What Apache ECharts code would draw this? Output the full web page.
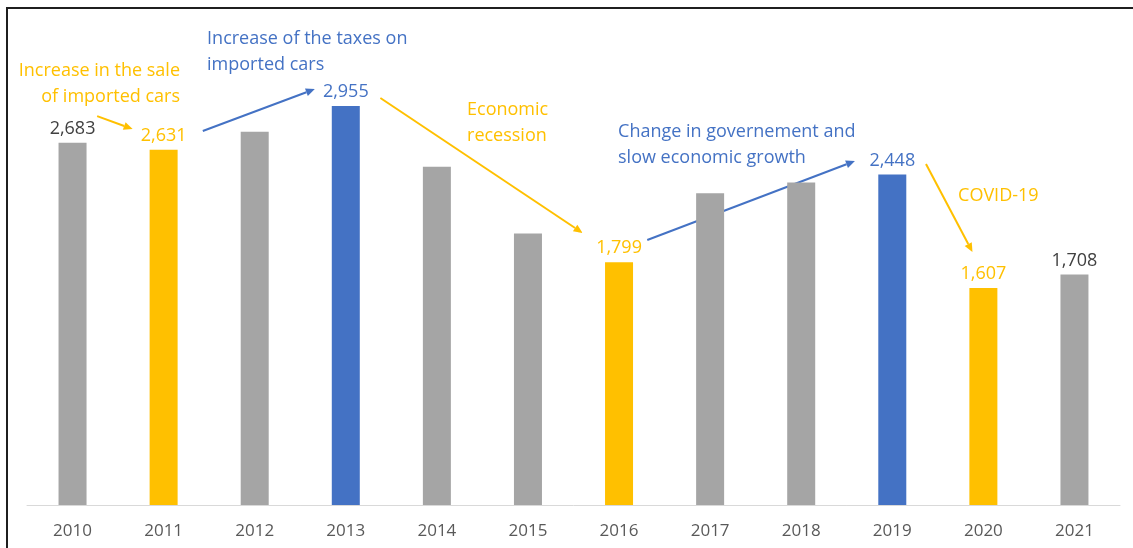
<!DOCTYPE html>
<html>
<head>
<meta charset="utf-8">
<script src="https://cdn.jsdelivr.net/npm/echarts@6/dist/echarts.min.js"></script>
<style>
  html, body { margin: 0; padding: 0; background: #ffffff; }
  #chart { width: 1133px; height: 548px; }
</style>
</head>
<body>
<div id="chart"></div>
<script>
// Yearly car sales (units)
const years  = ['2010', '2011', '2012', '2013', '2014', '2015', '2016', '2017', '2018', '2019', '2020', '2021'];
const sales  = [2683, 2631, 2765, 2955, 2506, 2012, 1799, 2309, 2388, 2448, 1607, 1708];
const tones  = ['gray', 'yellow', 'gray', 'blue', 'gray', 'gray', 'yellow', 'gray', 'gray', 'blue', 'yellow', 'gray'];
const labelled = [true, true, false, true, false, false, true, false, false, true, true, true];

// Annotation arrows, in data space: [category position, value]
const arrowStart = [[0.27, 2881], [1.43, 2770], [3.38, 3015], [6.31, 1963], [9.37, 2526]];
const arrowEnd   = [[0.66, 2785], [2.66, 3081], [5.60, 2015], [8.59, 2548], [9.88, 1874]];
const arrowTone  = ['yellow', 'blue', 'yellow', 'blue', 'yellow'];

// Annotation notes, anchored in data space
const noteText   = ['Increase in the sale\nof imported cars', 'Increase of the taxes on\nimported cars',
                    'Economic\nrecession', 'Change in governement and\nslow economic growth', 'COVID-19'];
const noteAnchor = [[1.18, 3119], [1.477, 3356], [4.331, 2830], [5.989, 2670], [9.722, 2289]];
const noteAlign  = ['right', 'left', 'left', 'left', 'left'];
const noteTone   = ['yellow', 'blue', 'yellow', 'blue', 'yellow'];

const barFill = { gray: '#a5a5a5', yellow: '#ffc000', blue: '#4472c4' };
const ink     = { gray: '#404040', yellow: '#ffc000', blue: '#4472c4' };
const FONT = "'Open Sans', 'Noto Sans', sans-serif";

const chart = echarts.init(document.getElementById('chart'), null, { renderer: 'canvas' });

chart.setOption({
  animation: false,
  backgroundColor: '#ffffff',
  grid: { left: 27, right: 13, top: 100, bottom: 43 },
  xAxis: [
    {
      type: 'category',
      data: years,
      axisLine: { lineStyle: { color: '#d9d9d9', width: 1 } },
      axisTick: { show: false },
      axisLabel: { color: '#595959', fontSize: 17, fontFamily: FONT, margin: 18 }
    },
    { type: 'value', min: -0.5, max: 11.5, show: false }
  ],
  yAxis: { type: 'value', min: 0, max: 3000, show: false, splitLine: { show: false } },
  series: [{
    type: 'bar',
    xAxisIndex: 0,
    barWidth: 28,
    data: sales.map((v, i) => ({
      value: v,
      itemStyle: { color: barFill[tones[i]] },
      label: {
        show: labelled[i],
        position: 'top',
        distance: 5,
        color: ink[tones[i]],
        fontSize: 18,
        fontFamily: FONT,
        formatter: p => p.value.toLocaleString('en-US')
      }
    }))
  }]
});

// Arrows and notes placed through the chart's own coordinate system
function toPx(pt) {
  return chart.convertToPixel({ xAxisIndex: 1, yAxisIndex: 0 }, pt);
}

const graphics = [];

// Frame around the chart
graphics.push({
  type: 'rect', silent: true,
  shape: { x: 7, y: 8, width: 1140, height: 560 },
  style: { fill: 'none', stroke: '#1f1f1f', lineWidth: 2 }
});

arrowStart.forEach((s, i) => {
  const a = toPx(s), b = toPx(arrowEnd[i]);
  const dx = b[0] - a[0], dy = b[1] - a[1];
  const len = Math.hypot(dx, dy);
  const ux = dx / len, uy = dy / len;
  const head = 9, half = 4;
  const bx = b[0] - ux * head, by = b[1] - uy * head;
  const color = barFill[arrowTone[i]];
  graphics.push({
    type: 'line', silent: true,
    shape: { x1: a[0], y1: a[1], x2: bx, y2: by },
    style: { stroke: color, lineWidth: 2 }
  });
  graphics.push({
    type: 'polygon', silent: true,
    shape: { points: [[b[0], b[1]], [bx - uy * half, by + ux * half], [bx + uy * half, by - ux * half]] },
    style: { fill: color }
  });
});

noteText.forEach((t, i) => {
  const p = toPx(noteAnchor[i]);
  graphics.push({
    type: 'text', silent: true,
    x: p[0], y: p[1],
    style: {
      text: t,
      fill: ink[noteTone[i]],
      font: "18px " + FONT,
      lineHeight: 26,
      align: noteAlign[i],
      verticalAlign: 'middle'
    }
  });
});

chart.setOption({ graphic: graphics });
</script>
</body>
</html>
